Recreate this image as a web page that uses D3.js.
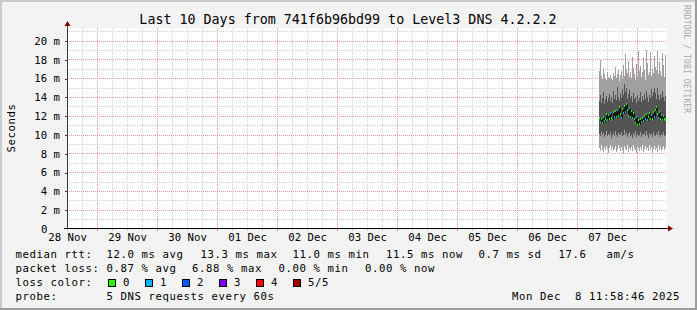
<!DOCTYPE html>
<html>
<head>
<meta charset="utf-8">
<script src="https://cdn.jsdelivr.net/npm/d3@7"></script>
<style>
  html, body { margin: 0; padding: 0; background: #f3f3f3; }
  svg { display: block; }
  text { font-family: "DejaVu Sans Mono", monospace; white-space: pre; }
</style>
</head>
<body>
<svg id="chart" width="697" height="310"></svg>
<script>
// ---------------- data ----------------
const titleText = "Last 10 Days from 741f6b96bd99 to Level3 DNS 4.2.2.2";
const yAxisTitle = "Seconds";
const rangeStart = new Date(2025, 10, 28, 11, 58, 46);
const rangeEnd = new Date(2025, 11, 8, 11, 58, 46);
const yMax = 21.28; // ms
const yTickValues = [0, 2, 4, 6, 8, 10, 12, 14, 16, 18, 20];
const yTickLabels = ["0", "2 m", "4 m", "6 m", "8 m", "10 m", "12 m", "14 m", "16 m", "18 m", "20 m"];
const xTickLabels = ["28 Nov", "29 Nov", "30 Nov", "01 Dec", "02 Dec", "03 Dec", "04 Dec", "05 Dec", "06 Dec", "07 Dec"];

// samples: first sample time and step (minutes)
const sampleStart = new Date(2025, 11, 7, 8, 48, 0);
const sampleStepMin = 24;
// smoke: outer band (min..max ping) and inner band, median, loss count (ms)
const pingMax = [16.8,17.9,16.2,15.9,17.1,16.4,16.0,15.8,16.6,16.1, 15.9,16.3,16.0,15.8,16.5,16.2,17.2,16.0,16.4,16.9,
                 15.7,16.3,16.8,15.9,17.4,16.2,18.6,17.0,16.5,17.8, 16.1,16.7,15.9,18.3,17.1,16.4,15.8,17.5,16.2,18.9,
                 16.8,17.3,16.1,16.6,18.1,16.9,15.8,19.0,17.6,16.3, 16.7,18.8,16.2,17.0,16.5,18.4,17.2,16.9,18.9,16.4,
                 17.7,16.8,16.2,18.7,17.4,16.1,18.5];
const pingMin = [8.6,8.2,8.9,8.4,8.1,8.7,8.3,8.8,8.5,8.0, 8.6,8.9,8.3,8.7,8.2,8.5,8.8,8.1,8.4,8.9,
                 8.6,8.2,8.7,8.4,8.0,8.8,8.5,8.3,8.9,8.1, 8.6,8.4,8.7,8.2,8.9,8.5,8.3,8.0,8.8,8.6,
                 8.2,8.7,8.4,8.9,8.1,8.5,8.8,8.3,8.6,8.2, 8.9,8.4,8.7,8.0,8.5,8.8,8.3,8.6,8.1,8.9,
                 8.4,8.7,8.2,8.5,8.8,8.3,8.6];
const innerHigh = [13.6,14.2,13.4,13.9,14.5,13.3,13.8,14.1,13.5,13.9, 14.3,13.6,14.0,13.4,14.6,13.8,14.2,13.7,15.1,14.0,
                   13.6,14.4,13.9,14.8,14.2,15.4,14.5,14.9,13.8,14.3, 14.7,13.9,14.1,13.5,14.4,13.8,14.0,13.4,14.2,13.6,
                   13.9,14.5,13.5,14.1,13.7,14.3,13.8,14.6,14.0,13.5, 14.2,13.9,14.8,14.1,14.5,15.0,14.4,13.8,14.9,14.2,
                   13.7,14.3,13.9,14.6,14.0,13.6,14.1];
const innerLow = [10.1,9.8,10.3,9.9,10.2,9.7,10.0,10.4,9.8,10.1, 9.9,10.3,9.6,10.0,10.2,9.8,10.4,10.0,9.7,10.2,
                  10.1,9.9,10.3,9.8,10.0,10.5,9.9,10.2,9.7,10.1, 10.3,9.8,10.0,9.6,10.2,9.9,10.4,9.7,10.1,9.8,
                  10.0,10.3,9.7,10.1,9.9,10.2,9.8,10.4,10.0,9.6, 10.2,9.9,10.1,9.7,10.3,10.0,9.8,10.2,9.9,10.4,
                  10.0,9.7,10.1,9.9,10.3,9.8,10.0];
const medianRtt = [11.8,11.3,11.6,11.2,11.9,11.4, 11.7,12.2,11.5,12.1,11.6,12.3,11.8,11.5,12.4,11.9,
                   12.5,11.9,12.6,12.0,12.9,12.2,11.8, 12.7,12.3,13.0,12.4,13.3,12.6,12.0,12.8,11.9,12.5,
                   11.8,12.3,11.6,11.2,11.9,11.0,11.5,11.1,11.6,11.3,
                   11.8,11.4,12.0,11.6,12.2,11.5,11.9,12.3,11.6,12.1,11.7,12.4,11.9,
                   12.6,12.9,12.2,11.8,12.4,11.7,12.1,11.5,12.0,11.7,11.5];
const lossCount = [0,1,0,0,1,0,0,0,1,0, 0,1,0,0,0,1,0,0,1,0, 0,0,1,0,1,0,1,0,0,0,
                   1,0,0,1,0,0,0,1,0,0, 0,0,1,0,0,0,1,0,1,0, 0,0,1,0,0,1,0,0,0,1,
                   0,0,1,0,0,0,0];

const rttLabel = "median rtt:";
const rttStats = ["12.0 ms avg", "13.3 ms max", "11.0 ms min", "11.5 ms now", "0.7 ms sd", "17.6", "am/s"];
const lossLabel = "packet loss:";
const lossStats = ["0.87 % avg", "6.88 % max", "0.00 % min", "0.00 % now"];
const lossColorLabel = "loss color:";
const lossNames = ["0", "1", "2", "3", "4", "5/5"];
const lossColors = ["#26ff00", "#00b8ff", "#0059ff", "#7e00ff", "#ff0000", "#a10000"];
const probeLabel = "probe:";
const probeText = "5 DNS requests every 60s";
const dateText = "Mon Dec  8 11:58:46 2025";
const watermark = "RRDTOOL / TOBI OETIKER";

// ---------------- layout ----------------
const W = 697, H = 310;
const plot = { left: 67, right: 667, top: 28, bottom: 228 };
const svg = d3.select("#chart");

const x = d3.scaleTime().domain([rangeStart, rangeEnd]).range([plot.left, plot.right]);
const y = d3.scaleLinear().domain([0, yMax]).range([plot.bottom + 0.5, plot.top + 0.5]);

// background + frame
svg.append("rect").attr("x", 0).attr("y", 0).attr("width", W).attr("height", H).attr("fill", "#f3f3f3");
svg.append("path").attr("d", `M1,${H} V1 H${W}`).attr("stroke", "#cbcbcb").attr("stroke-width", 2).attr("fill", "none");
svg.append("path").attr("d", `M0,${H-1} H${W-1} V0`).attr("stroke", "#9c9c9c").attr("stroke-width", 2).attr("fill", "none");

// canvas
svg.append("rect").attr("x", plot.left).attr("y", plot.top)
  .attr("width", plot.right - plot.left).attr("height", plot.bottom - plot.top).attr("fill", "#ffffff");

const grid = svg.append("g").attr("shape-rendering", "crispEdges");
// minor horizontal lines (1 ms)
const minorY = d3.range(1, 22).filter(v => v % 2 === 1 && v < yMax);
grid.selectAll(".hmin").data(minorY).join("line")
  .attr("x1", plot.left).attr("x2", plot.right)
  .attr("y1", d => Math.round(y(d)) + 0.5).attr("y2", d => Math.round(y(d)) + 0.5)
  .attr("stroke", "#d2d2d2").attr("stroke-dasharray", "1,1");
// minor vertical (6 h)
const minorX = d3.timeHour.every(6).range(rangeStart, rangeEnd).filter(d => d.getHours() !== 0);
grid.selectAll(".vmin").data(minorX).join("line")
  .attr("x1", d => Math.round(x(d)) + 0.5).attr("x2", d => Math.round(x(d)) + 0.5)
  .attr("y1", plot.top).attr("y2", plot.bottom)
  .attr("stroke", "#d2d2d2").attr("stroke-dasharray", "1,1");
// major horizontal (2 ms)
const majorY = yTickValues.filter(v => v > 0);
grid.selectAll(".hmaj").data(majorY).join("line")
  .attr("x1", plot.left).attr("x2", plot.right)
  .attr("y1", d => Math.round(y(d)) + 0.5).attr("y2", d => Math.round(y(d)) + 0.5)
  .attr("stroke", "#f09a9a").attr("stroke-dasharray", "1,1");
// major vertical (midnight)
const majorX = d3.timeDay.range(rangeStart, rangeEnd);
grid.selectAll(".vmaj").data(majorX).join("line")
  .attr("x1", d => Math.round(x(d)) + 0.5).attr("x2", d => Math.round(x(d)) + 0.5)
  .attr("y1", plot.top).attr("y2", plot.bottom)
  .attr("stroke", "#f09a9a").attr("stroke-dasharray", "1,1");

// ---------------- smoke data ----------------
const samples = medianRtt.map((m, i) => ({
  t0: d3.timeMinute.offset(sampleStart, i * sampleStepMin),
  t1: d3.timeMinute.offset(sampleStart, (i + 1) * sampleStepMin),
  hi: pingMax[i], lo: pingMin[i], ihi: innerHigh[i], ilo: innerLow[i], med: m, loss: lossCount[i]
}));
const colX = d => Math.round(x(d.t0));
const colW = d => Math.max(1, Math.round(x(d.t1)) - Math.round(x(d.t0)));
const dataG = svg.append("g").attr("shape-rendering", "crispEdges");
dataG.selectAll(".outer").data(samples).join("rect")
  .attr("x", colX).attr("width", colW)
  .attr("y", d => Math.round(y(d.hi))).attr("height", d => Math.round(y(d.lo)) - Math.round(y(d.hi)))
  .attr("fill", "#a0a0a0");
dataG.selectAll(".inner").data(samples).join("rect")
  .attr("x", colX).attr("width", colW)
  .attr("y", d => Math.round(y(d.ihi))).attr("height", d => Math.round(y(d.ilo)) - Math.round(y(d.ihi)))
  .attr("fill", "#545454");
// median connector
const medLine = d3.line()
  .x(d => Math.round(x(d.t0)) + 0.5)
  .y(d => Math.round(y(d.med)))
  .curve(d3.curveStepAfter);
dataG.append("path").datum(samples).attr("d", medLine)
  .attr("fill", "none").attr("stroke", "#1a1a1a").attr("stroke-width", 1);
dataG.selectAll(".med").data(samples).join("rect")
  .attr("x", colX).attr("width", colW)
  .attr("y", d => Math.round(y(d.med)) - 1).attr("height", 2)
  .attr("fill", d => lossColors[d.loss]);

// ---------------- axes ----------------
const axisG = svg.append("g").attr("shape-rendering", "crispEdges");
// x ticks below axis
axisG.selectAll(".xtmin").data(minorX).join("line")
  .attr("x1", d => Math.round(x(d)) + 0.5).attr("x2", d => Math.round(x(d)) + 0.5)
  .attr("y1", plot.bottom + 1).attr("y2", plot.bottom + 3).attr("stroke", "#c8c8c8");
axisG.selectAll(".xtmaj").data(majorX).join("line")
  .attr("x1", d => Math.round(x(d)) + 0.5).attr("x2", d => Math.round(x(d)) + 0.5)
  .attr("y1", plot.bottom + 1).attr("y2", plot.bottom + 3).attr("stroke", "#f08080");
// axis lines
axisG.append("line").attr("x1", plot.left + 0.5).attr("x2", plot.left + 0.5)
  .attr("y1", plot.bottom + 1).attr("y2", plot.top - 4).attr("stroke", "#3a3a3a");
axisG.append("line").attr("x1", plot.left - 3).attr("x2", plot.right + 3)
  .attr("y1", plot.bottom + 0.5).attr("y2", plot.bottom + 0.5).attr("stroke", "#000");
// arrows
svg.append("path").attr("d", `M${plot.left + 0.5},${plot.top - 7} L${plot.left + 3.5},${plot.top - 2} L${plot.left - 2.5},${plot.top - 2} Z`).attr("fill", "#7f0000");
svg.append("path").attr("d", `M${plot.right + 6},${plot.bottom + 0.5} L${plot.right + 1},${plot.bottom - 2.5} L${plot.right + 1},${plot.bottom + 3.5} Z`).attr("fill", "#7f0000");

// y axis labels via d3 axis
const yAxis = d3.axisLeft(y).tickValues(yTickValues)
  .tickFormat((d, i) => yTickLabels[i]).tickSize(3).tickPadding(4);
const yg = svg.append("g").attr("transform", `translate(${plot.left},0)`).call(yAxis);
yg.select(".domain").remove();
yg.selectAll(".tick line").attr("stroke", "#3a3a3a").attr("shape-rendering", "crispEdges")
  .attr("transform", "translate(0.5,0.5)");
yg.selectAll(".tick text").attr("font-family", "DejaVu Sans Mono").attr("font-size", "10.67px")
  .attr("fill", "#000").attr("dy", "0.36em").attr("x", d => d === 0 ? -19.5 : -7);
yg.selectAll(".tick").filter(d => d === 0).select("line").remove();

// x labels at noon
const labelDates = xTickLabels.map((_, i) => d3.timeHour.offset(d3.timeDay.floor(rangeStart), 12 + 24 * i));
const xAxis = d3.axisBottom(x).tickValues(labelDates)
  .tickFormat((d, i) => xTickLabels[i]).tickSize(0).tickPadding(5);
const xg = svg.append("g").attr("transform", `translate(0,${plot.bottom})`).call(xAxis);
xg.select(".domain").remove();
xg.selectAll(".tick text").attr("font-family", "DejaVu Sans Mono").attr("font-size", "10.67px")
  .attr("fill", "#000").attr("dy", "0.71em");

// title
svg.append("text").attr("x", 348).attr("y", 24).attr("text-anchor", "middle")
  .attr("font-size", "13.33px").attr("fill", "#000").text(titleText);
// y title
svg.append("text").attr("transform", `translate(15,${(plot.top + plot.bottom) / 2}) rotate(-90)`)
  .attr("text-anchor", "middle").attr("font-size", "10.67px").attr("letter-spacing", "0.58px")
  .attr("fill", "#000").text(yAxisTitle);
// watermark
svg.append("text").attr("transform", `translate(684,5) rotate(90)`)
  .attr("font-size", "8px").attr("letter-spacing", "0.1px").attr("fill", "#a8a8a8").text(watermark);

// ---------------- legend ----------------
const lg = svg.append("g").attr("font-size", "10.67px").attr("letter-spacing", "0.58px").attr("fill", "#000");
const row1 = 258, row2 = 272, row3 = 286, row4 = 300;
lg.append("text").attr("x", 15.5).attr("y", row1).text(rttLabel);
const rttX = [106.5, 200.5, 292.5, 386, 478.5, 558.5, 606.5];
rttStats.forEach((s, i) => lg.append("text").attr("x", rttX[i]).attr("y", row1).text(s));
lg.append("text").attr("x", 15.5).attr("y", row2).text(lossLabel);
const lossX = [106.5, 192, 278.5, 365];
lossStats.forEach((s, i) => lg.append("text").attr("x", lossX[i]).attr("y", row2).text(s));
lg.append("text").attr("x", 15.5).attr("y", row3).text(lossColorLabel);
const boxX = [108.5, 145.5, 182.5, 219.5, 256.5, 293.5];
lossNames.forEach((n, i) => {
  lg.append("rect").attr("x", boxX[i]).attr("y", 279.5).attr("width", 7).attr("height", 7)
    .attr("fill", lossColors[i]).attr("stroke", "#000").attr("stroke-width", 1).attr("shape-rendering", "crispEdges");
  lg.append("text").attr("x", boxX[i] + 14.5).attr("y", row3).text(n);
});
lg.append("text").attr("x", 15.5).attr("y", row4).text(probeLabel);
lg.append("text").attr("x", 106.5).attr("y", row4).text(probeText);
lg.append("text").attr("x", 512).attr("y", row4).text(dateText);
</script>
</body>
</html>
